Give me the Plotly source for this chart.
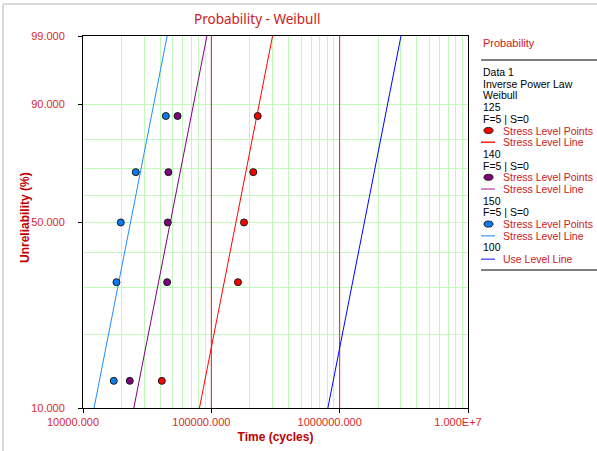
import numpy as np
import plotly.graph_objects as go

# ---------------- data ----------------
stress_levels = ["125", "140", "150"]
use_level = "100"
unrel_pct = [12.96, 31.48, 50.0, 68.52, 87.04]          # median ranks (%)
times_125 = [41150, 161300, 179700, 212300, 229800]
times_140 = [23150, 45250, 45800, 46300, 54570]
times_150 = [17370, 18230, 19700, 25780, 44220]
beta = 2.88
eta_125 = 176500
eta_140 = 54370
eta_150 = 26630
eta_100 = 1768000
line_unrel_range = [10.0, 99.0]

x_tick_vals = [1e4, 1e5, 1e6, 1e7]
x_tick_text = ["10000.000", "100000.000", "1000000.000", "1.000E+7"]
y_tick_vals = [10, 50, 90, 99]
y_tick_text = ["10.000", "50.000", "90.000", "99.000"]
y_minor_vals = [20, 30, 40, 60, 70, 80]
x_minor_mult = [2, 3, 4, 5, 6, 7, 8, 9]
x_decades = [1e4, 1e5, 1e6]

legend_lines = [
    ("Data 1", None), ("Inverse Power Law", None), ("Weibull", None),
    ("125", None), ("F=5 | S=0", None),
    ("Stress Level Points", ("pt", "#ff0000")), ("Stress Level Line", ("ln", "#ff2020")),
    ("140", None), ("F=5 | S=0", None),
    ("Stress Level Points", ("pt", "#800080")), ("Stress Level Line", ("ln", "#c060c0")),
    ("150", None), ("F=5 | S=0", None),
    ("Stress Level Points", ("pt", "#0a7cf0")), ("Stress Level Line", ("ln", "#60b0ff")),
    ("100", None),
    ("Use Level Line", ("ln", "#6060ff")),
]

# ---------------- helpers ----------------
def wt(p):
    p = np.asarray(p, dtype=float) / 100.0
    return np.log(-np.log(1.0 - p))

def weib_time(eta, p):
    p = np.asarray(p, dtype=float) / 100.0
    return eta * (-np.log(1.0 - p)) ** (1.0 / beta)

L, R, T, B = 83, 129, 36, 43
W, H = 597, 451
PW, PH = W - L - R, H - T - B

def pxx(px):
    return (px - L) / PW

def pxy(py):
    return (H - B - py) / PH

LABEL_RED = "#d42a2a"
FONT = "Liberation Sans"
LFONT = "Liberation Sans"

fig = go.Figure()

# decade (major) grid lines in red, inside the plot
for v in x_tick_vals[1:-1]:
    fig.add_trace(go.Scatter(
        x=[v, v], y=wt(line_unrel_range), mode="lines",
        line=dict(color="#cc2020", width=1), showlegend=False, hoverinfo="skip"))

lines = [
    (eta_125, "#ff0000"),
    (eta_140, "#800080"),
    (eta_150, "#1e8fff"),
    (eta_100, "#0000ff"),
]
for eta, col in lines:
    fig.add_trace(go.Scatter(
        x=weib_time(eta, line_unrel_range), y=wt(line_unrel_range),
        mode="lines", line=dict(color=col, width=1), showlegend=False, hoverinfo="skip"))

pts = [(times_125, "#ff0000"), (times_140, "#800080"), (times_150, "#0a7cf0")]
for times, col in pts:
    fig.add_trace(go.Scatter(
        x=times, y=wt(unrel_pct), mode="markers",
        marker=dict(color=col, size=7, line=dict(color="#1a1a1a", width=1)),
        showlegend=False))

x_minor = [d * m for d in x_decades for m in x_minor_mult]

fig.update_xaxes(
    type="log", range=[4, 7],
    tickmode="array", tickvals=x_tick_vals, ticktext=x_tick_text,
    ticks="outside", ticklen=4, tickcolor="black",
    tickfont=dict(family=FONT, size=11, color=LABEL_RED),
    ticklabelshift=-10,
    showline=True, linecolor="black", linewidth=1, mirror=True,
    showgrid=False,
    minor=dict(tickmode="array", tickvals=x_minor, showgrid=True,
               gridcolor="#c4f7bc", gridwidth=1, ticks=""),
    zeroline=False,
    title=dict(text="<b>Time (cycles)</b>", font=dict(family=FONT, size=12, color="#c00000"), standoff=5),
    automargin=False,
)
fig.update_yaxes(
    range=[float(wt(10)), float(wt(99))],
    tickmode="array", tickvals=wt(y_tick_vals), ticktext=y_tick_text,
    ticks="outside", ticklen=4, tickcolor="black",
    tickfont=dict(family=FONT, size=11, color=LABEL_RED),
    ticklabelstandoff=11,
    showline=True, linecolor="black", linewidth=1, mirror=True,
    showgrid=True, gridcolor="#c4f7bc", gridwidth=1,
    minor=dict(tickmode="array", tickvals=wt(y_minor_vals), showgrid=True,
               gridcolor="#c4f7bc", gridwidth=1, ticks=""),
    zeroline=False,
    automargin=False,
)

annotations = [
    dict(text="Probability - Weibull", x=pxx(257), y=pxy(19), xref="paper", yref="paper",
         showarrow=False, xanchor="center", yanchor="middle",
         font=dict(family="Noto Sans", size=13.5, color="#cc2020")),
    dict(text="<b>Unreliability (%)</b>", x=pxx(25), y=pxy(218), xref="paper", yref="paper",
         showarrow=False, xanchor="center", yanchor="middle", textangle=-90,
         font=dict(family=FONT, size=12, color="#c00000")),
    dict(text="Probability", x=pxx(481), y=pxy(43), xref="paper", yref="paper",
         showarrow=False, xanchor="left", yanchor="middle",
         font=dict(family=LFONT, size=11, color="#cc2020")),
]
shapes = [
    dict(type="line", xref="paper", yref="paper", x0=pxx(3), x1=pxx(W), y0=pxy(4), y1=pxy(4),
         line=dict(color="#dadada", width=2)),
    dict(type="line", xref="paper", yref="paper", x0=pxx(3), x1=pxx(3), y0=pxy(4), y1=pxy(H),
         line=dict(color="#dadada", width=2)),
    dict(type="line", xref="paper", yref="paper", x0=pxx(481), x1=pxx(W), y0=pxy(60), y1=pxy(60),
         line=dict(color="#808080", width=2)),
    dict(type="line", xref="paper", yref="paper", x0=pxx(481), x1=pxx(W), y0=pxy(270), y1=pxy(270),
         line=dict(color="#808080", width=2)),
]

y_row = 72.0
for text, sym in legend_lines:
    if sym is None:
        annotations.append(dict(text=text, x=pxx(481), y=pxy(y_row), xref="paper", yref="paper",
                                showarrow=False, xanchor="left", yanchor="middle",
                                font=dict(family=LFONT, size=10.5, color="black")))
    else:
        kind, col = sym
        annotations.append(dict(text=text, x=pxx(501), y=pxy(y_row), xref="paper", yref="paper",
                                showarrow=False, xanchor="left", yanchor="middle",
                                font=dict(family=LFONT, size=10.5, color="#cc2020")))
        if kind == "pt":
            shapes.append(dict(type="circle", xref="paper", yref="paper",
                               x0=pxx(484), x1=pxx(493), y0=pxy(y_row - 3), y1=pxy(y_row + 3),
                               fillcolor=col, line=dict(color="#1a1a1a", width=1)))
        else:
            shapes.append(dict(type="line", xref="paper", yref="paper",
                               x0=pxx(481), x1=pxx(495), y0=pxy(y_row), y1=pxy(y_row),
                               line=dict(color=col, width=1.5)))
    y_row += 11.7

fig.update_layout(
    width=W, height=H,
    margin=dict(l=L, r=R, t=T, b=B, pad=0),
    paper_bgcolor="white", plot_bgcolor="white",
    showlegend=False,
    annotations=annotations, shapes=shapes,
)

fig.write_html("out.html", config={"displayModeBar": False},
               post_script="document.body.style.margin='0px';")
